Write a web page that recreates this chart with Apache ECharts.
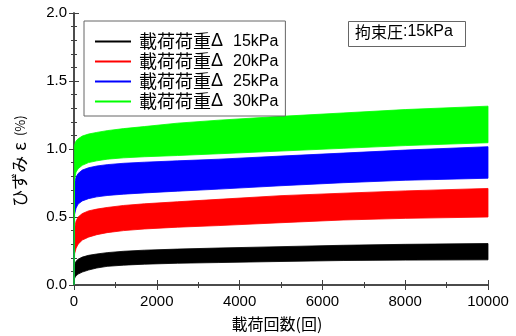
<!DOCTYPE html>
<html>
<head>
<meta charset="utf-8">
<script src="https://cdn.jsdelivr.net/npm/echarts@6/dist/echarts.min.js"></script>
<style>
html,body{margin:0;padding:0;background:#fff;}
#main{width:516px;height:336px;}
</style>
</head>
<body>
<div id="main"></div>
<script>
// Data (lower / upper envelopes of each strain band)
const cycles   = [0, 15, 50, 100, 200, 350, 550, 800, 1200, 1700, 2500, 3500, 5000, 6500, 8000, 10000];
const black_lo = [0, 0.050, 0.068, 0.080, 0.095, 0.110, 0.125, 0.137, 0.146, 0.153, 0.160, 0.165, 0.173, 0.180, 0.183, 0.185];
const black_hi = [0, 0.150, 0.175, 0.190, 0.205, 0.218, 0.228, 0.238, 0.248, 0.256, 0.264, 0.272, 0.282, 0.292, 0.299, 0.305];
const red_lo   = [0, 0.230, 0.270, 0.300, 0.330, 0.352, 0.370, 0.385, 0.400, 0.412, 0.425, 0.437, 0.458, 0.478, 0.490, 0.500];
const red_hi   = [0, 0.420, 0.470, 0.500, 0.525, 0.545, 0.558, 0.570, 0.585, 0.597, 0.612, 0.630, 0.657, 0.675, 0.692, 0.710];
const blue_lo  = [0, 0.520, 0.565, 0.595, 0.618, 0.635, 0.648, 0.658, 0.668, 0.677, 0.690, 0.705, 0.730, 0.752, 0.770, 0.785];
const blue_hi  = [0, 0.750, 0.795, 0.820, 0.845, 0.862, 0.875, 0.885, 0.895, 0.903, 0.913, 0.925, 0.948, 0.970, 0.992, 1.017];
const green_lo = [0, 0.780, 0.830, 0.855, 0.880, 0.900, 0.913, 0.925, 0.935, 0.943, 0.952, 0.965, 0.985, 1.005, 1.025, 1.046];
const green_hi = [0, 1.030, 1.060, 1.075, 1.095, 1.110, 1.122, 1.135, 1.150, 1.165, 1.190, 1.212, 1.240, 1.265, 1.290, 1.315];

const bandNames = ['載荷荷重Δ 15kPa', '載荷荷重Δ 20kPa', '載荷荷重Δ 25kPa', '載荷荷重Δ 30kPa'];
const bandColors = ['#000000', '#ff0000', '#0000ff', '#00ff00'];
const xTicks = [0, 2000, 4000, 6000, 8000, 10000];

const bands = [
  [black_lo, black_hi],
  [red_lo, red_hi],
  [blue_lo, blue_hi],
  [green_lo, green_hi]
];

const series = bands.map(function (b, i) {
  const lo = b[0], hi = b[1];
  const rows = cycles.map(function (c, k) { return [c, lo[k], hi[k]]; });
  return {
    name: bandNames[i],
    type: 'custom',
    coordinateSystem: 'cartesian2d',
    itemStyle: { color: bandColors[i] },
    encode: { x: 0, y: [1, 2] },
    data: rows,
    z: 2,
    renderItem: function (params, api) {
      if (params.dataIndex !== 0) return null;
      const top = rows.map(function (r) { return api.coord([r[0], r[2]]); });
      const bot = rows.map(function (r) { return api.coord([r[0], r[1]]); }).reverse();
      return {
        type: 'polygon',
        shape: { points: top.concat(bot) },
        style: { fill: bandColors[i], stroke: bandColors[i], lineWidth: 0.8 }
      };
    }
  };
});

const axisCol = '#404040';
const latin = 'Liberation Sans, Arial, sans-serif';
const cjk = 'Noto Sans CJK JP, sans-serif';

function axisCommon() {
  return {
    axisLine: { show: true, lineStyle: { color: axisCol, width: 1.5 } },
    axisTick: { show: true, inside: true, length: 5, lineStyle: { color: axisCol } },
    splitLine: { show: false }
  };
}

const chart = echarts.init(document.getElementById('main'));
chart.setOption({
  animation: false,
  backgroundColor: '#fff',
  grid: { left: 74, right: 28, top: 13, bottom: 51, containLabel: false },
  xAxis: [Object.assign(axisCommon(), {
    type: 'value', min: 0, max: 10000, interval: 2000,
    minorTick: { show: true, splitNumber: 2, length: 3, lineStyle: { color: axisCol } },
    axisLabel: { color: '#000', fontSize: 15, fontFamily: latin, margin: 9,
      formatter: function (v) { return xTicks.indexOf(v) >= 0 ? String(v) : ''; } }
  }), Object.assign(axisCommon(), {
    type: 'value', position: 'top', min: 0, max: 10000, interval: 2000,
    minorTick: { show: true, splitNumber: 2, length: 3, lineStyle: { color: axisCol } },
    axisLabel: { show: false }
  })],
  yAxis: [Object.assign(axisCommon(), {
    type: 'value', min: 0, max: 2, interval: 0.5,
    minorTick: { show: true, splitNumber: 5, length: 3, lineStyle: { color: axisCol } },
    axisLabel: { color: '#000', fontSize: 15, fontFamily: latin, margin: 7,
      formatter: function (v) { return v.toFixed(1); } }
  }), Object.assign(axisCommon(), {
    type: 'value', position: 'right', min: 0, max: 2, interval: 0.5,
    minorTick: { show: true, splitNumber: 5, length: 3, lineStyle: { color: axisCol } },
    axisLabel: { show: false }
  })],
  legend: {
    data: bandNames,
    orient: 'vertical',
    left: 84, top: 21,
    padding: [11, 7, 5, 11],
    itemGap: 1,
    itemWidth: 36,
    itemHeight: 2,
    icon: 'rect',
    borderColor: '#666',
    borderWidth: 1,
    backgroundColor: '#fff',
    selectedMode: false,
    z: 10,
    formatter: function (name) {
      const p = name.split(' ');
      const head = p[0].slice(0, -1), delta = p[0].slice(-1);
      return '{c|' + head + '}{d|' + delta + '}{l|' + p[1] + '}';
    },
    textStyle: {
      color: '#000', lineHeight: 19, padding: [0, 0, 0, 3],
      rich: {
        c: { fontFamily: cjk, fontSize: 18, color: '#000', lineHeight: 19 },
        d: { fontFamily: latin, fontSize: 18, color: '#000', lineHeight: 19 },
        l: { fontFamily: latin, fontSize: 16, color: '#000', lineHeight: 19, padding: [0, 0, 0, 10] }
      }
    }
  },
  graphic: [
    {
      type: 'rect', left: 348, top: 21, z: 100,
      shape: { width: 117, height: 25 },
      style: { fill: '#fff', stroke: '#666', lineWidth: 1 }
    },
    {
      type: 'text', left: 355, top: 24, z: 101,
      style: {
        text: '{c|拘束圧}{l|:15kPa}',
        rich: {
          c: { fontFamily: cjk, fontSize: 16, fill: '#000', lineHeight: 19 },
          l: { fontFamily: latin, fontSize: 16, fill: '#000', lineHeight: 19 }
        }
      }
    },
    {
      type: 'text', x: 277, y: 324, z: 101,
      style: { text: '載荷回数(回)', fontFamily: cjk, fontSize: 16, fill: '#000',
        align: 'center', verticalAlign: 'middle' }
    },
    {
      type: 'text', x: 20, y: 161, rotation: Math.PI / 2, z: 101,
      style: {
        text: '{c|ひずみ}{e|ε}{s|(%)}',
        align: 'center', verticalAlign: 'middle',
        rich: {
          c: { fontFamily: cjk, fontSize: 17, fill: '#000' },
          e: { fontFamily: cjk, fontSize: 17, fill: '#000', padding: [0, 6, 0, 5] },
          s: { fontFamily: cjk, fontSize: 13, fill: '#000' }
        }
      }
    }
  ],
  series: series
});
</script>
</body>
</html>
